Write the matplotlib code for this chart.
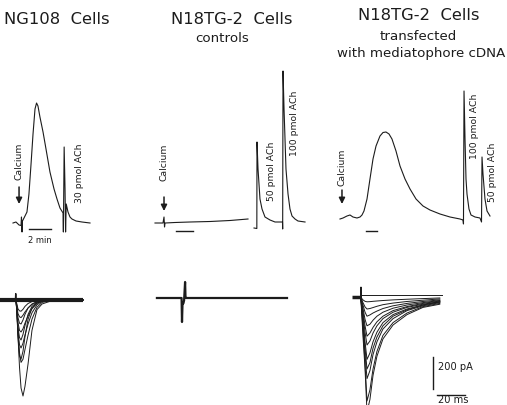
import matplotlib
matplotlib.use("Agg")
import matplotlib.pyplot as plt

# ---------------- data ----------------
# Top row: chemiluminescence traces, time in min, light in a.u.
a_t = [0, 0.27, 0.55, 0.73, 0.77, 0.82, 0.86, 1.0, 1.27, 1.45, 1.64, 1.82, 2.0, 2.14,
       2.27, 2.45, 2.73, 3.0, 3.36, 3.73, 4.0, 4.27, 4.55, 4.58, 4.65, 4.73, 4.78, 4.84,
       5.0, 5.18, 5.36, 5.73, 6.27, 7.0]
a_s = [0, 0.1, -0.2, -0.25, 0.6, -0.9, 0.2, 0.5, 1.1, 2.9, 5.9, 8.9, 11.4, 12.0,
       11.7, 10.6, 9.1, 7.4, 5.1, 3.4, 2.4, 1.5, 1.0, -0.9, 7.6, 3.4, -0.9, 1.9,
       1.1, 0.6, 0.4, 0.2, 0.1, 0]

b1_t = [0, 0.94, 1.06, 1.12, 1.18, 2.35, 4.12, 6.47, 8.82, 10.94]
b1_s = [0, 0, 0.6, -0.4, 0, 0.05, 0.1, 0.15, 0.25, 0.4]
b2_t = [11.65, 11.98, 12.0, 12.12, 12.35, 12.59, 12.94, 13.53, 14.12, 15.0, 15.02, 15.06,
        15.18, 15.41, 15.65, 15.88, 16.12, 16.47, 16.82, 17.65]
b2_s = [-0.5, -0.55, 8.1, 5.4, 2.4, 1.4, 0.6, 0.3, 0.1, 0.1, -0.6, 15.2,
        11.4, 5.4, 2.9, 1.4, 0.7, 0.4, 0.2, 0.1]

c_t = [0, 0.55, 1.27, 1.82, 2.36, 3.09, 3.64, 4.0, 4.36, 4.91, 5.45, 6.0, 6.55, 7.27,
       7.82, 8.36, 8.91, 9.45, 10.18, 10.91, 11.82, 12.73, 13.82, 15.09, 16.36, 18.18,
       20.0, 21.82, 22.36, 22.45, 22.55, 22.73, 22.91, 23.09, 23.45, 23.82, 24.55, 25.45,
       25.73, 25.82, 26.0, 26.36, 26.73, 27.27]
c_s = [0.2, 0.3, 0.5, 0.6, 0.4, 0.3, 0.4, 0.6, 1.0, 2.2, 4.2, 6.2, 7.5, 8.5,
       8.85, 8.9, 8.7, 8.2, 7.0, 5.5, 4.2, 3.2, 2.2, 1.5, 1.1, 0.7,
       0.4, 0.2, 0.1, -0.3, 13.0, 8.2, 4.2, 2.7, 1.2, 0.6, 0.4, 0.3,
       -0.1, 6.4, 4.7, 2.2, 1.0, 0.5]

# Bottom row: currents, time in ms, current in pA
d_t = [0, 0.7, 1.4, 2.5, 3.6, 5.0, 6.4, 8.6, 11.4, 15.0, 18.6, 24.3, 31.4, 47.9]
d_traces = [
    [0, -90, -220, -420, -550, -600, -540, -400, -190, -60, -25, -8, -3, 0],
    [0, -80, -200, -330, -390, -370, -310, -220, -120, -45, -15, -4, 0, 0],
    [0, -90, -230, -350, -370, -320, -230, -120, -50, -20, -8, -3, 0, 0],
    [0, -80, -200, -280, -300, -270, -220, -150, -80, -30, -8, -2, 0, 0],
    [0, -70, -170, -235, -250, -215, -160, -90, -40, -15, -5, 0, 0, 0],
    [0, -60, -140, -190, -200, -180, -145, -100, -55, -20, -6, 0, 0, 0],
    [0, -50, -110, -145, -150, -125, -90, -50, -25, -10, -3, 0, 0, 0],
    [0, -40, -85, -105, -110, -95, -75, -50, -28, -12, -4, 0, 0, 0],
    [0, -30, -55, -68, -70, -58, -40, -22, -10, -5, -2, 0, 0, 0],
]
d_base_t = [-11.4, 47.9]
d_base_i = [0, 0]
d_art_t = [-0.4, -0.2, 0.0]
d_art_i = [0, 40, 0]

e_t = [-17.9, -0.3, 0.0, 0.4, 0.9, 1.5, 2.2, 2.5, 2.9, 75.0]
e_i = [0, 0, -150, -25, -35, -15, 100, 5, 0, 0]

f_t = [0, 0.7, 2.1, 3.6, 5.0, 7.1, 9.3, 12.1, 16.4, 23.6, 33.6, 45.0, 57.0]
f_traces = [
    [0, -20, -240, -450, -720, -640, -490, -370, -262, -175, -110, -65, -45],
    [0, -15, -200, -420, -650, -580, -450, -340, -240, -160, -100, -60, -40],
    [0, -15, -170, -360, -510, -460, -360, -280, -200, -135, -85, -55, -35],
    [0, -12, -150, -320, -450, -410, -320, -250, -180, -120, -80, -50, -30],
    [0, -10, -130, -280, -390, -350, -280, -220, -160, -110, -75, -50, -30],
    [0, -10, -110, -220, -300, -275, -225, -180, -135, -95, -65, -45, -30],
    [0, -8, -90, -180, -245, -225, -190, -155, -120, -85, -60, -40, -25],
    [0, -6, -70, -140, -180, -170, -145, -120, -95, -70, -50, -35, -22],
    [0, -5, -50, -95, -120, -112, -100, -88, -72, -55, -40, -28, -18],
    [0, -4, -35, -62, -75, -72, -66, -58, -48, -38, -28, -20, -12],
    [0, -3, -18, -27, -30, -29, -27, -25, -22, -18, -14, -10, -6],
]
f_pre_t = [-5.7, 0.5]
f_pre_i = [3, 3]
f_art_t = [0.6, 0.7, 0.8, 1.0]
f_art_i = [0, 62, -25, 0]
f_top_t = [0, 58.6]
f_top_i = [12, 12]

titles = ["NG108  Cells", "N18TG-2  Cells", "N18TG-2  Cells"]
subtitles_b = ["controls"]
subtitles_c = ["transfected", "with mediatophore cDNA"]

# ---------------- layout ----------------
W, H = 507, 406
fig = plt.figure(figsize=(W / 100, H / 100), dpi=100)
fig.patch.set_facecolor("white")
INK = "#1c1c1c"
plt.rcParams["font.family"] = ["DejaVu Sans"]


def panel(x0, y0, sx, sy):
    """Axes over whole figure; data origin at pixel (x0, y0), sx/sy px per unit."""
    ax = fig.add_axes([0, 0, 1, 1])
    ax.set_xlim(-x0 / sx, (W - x0) / sx)
    ax.set_ylim(-(H - y0) / sy, y0 / sy)
    ax.axis("off")
    ax.patch.set_alpha(0)
    return ax


def ftext(x, y, s, **kw):
    fig.text(x / W, 1 - y / H, s, color=INK, **kw)


def arrow(ax, x, y_head, y_tail):
    ax.annotate("", xy=(x, y_head), xytext=(x, y_tail),
                arrowprops=dict(arrowstyle="-|>", color=INK, lw=1.1,
                                mutation_scale=9, shrinkA=0, shrinkB=0))


# titles
ftext(57, 20, titles[0], fontsize=11.8, ha="center", va="center")
ftext(232, 20, titles[1], fontsize=11.8, ha="center", va="center")
ftext(222, 38, subtitles_b[0], fontsize=9.6, ha="center", va="center")
ftext(419, 15, titles[2], fontsize=11.8, ha="center", va="center")
ftext(418, 36, subtitles_c[0], fontsize=9.6, ha="center", va="center")
ftext(337, 53, subtitles_c[1], fontsize=9.6, ha="left", va="center")

lw = 0.8
small = 6.7

# ---- Panel A ----
axA = panel(13, 224, 11, 10)
axA.plot(a_t, a_s, color=INK, lw=lw)
arrow(axA, 0.55, 1.9, 3.6)
axA.text(0.55, 6.3, "Calcium", rotation=90, fontsize=small, ha="center", va="center", color=INK)
axA.plot([1.45, 3.45], [-0.6, -0.6], color=INK, lw=1.0)
axA.text(2.45, -1.7, "2 min", fontsize=6, ha="center", va="center", color=INK)
axA.text(6.0, 5.1, "30 pmol ACh", rotation=90, fontsize=small, ha="center", va="center", color=INK)

# ---- Panel B ----
axB = panel(155, 224, 8.5, 10)
axB.plot(b1_t, b1_s, color=INK, lw=lw)
axB.plot(b2_t, b2_s, color=INK, lw=lw)
arrow(axB, 1.06, 1.2, 2.6)
axB.text(1.06, 6.2, "Calcium", rotation=90, fontsize=small, ha="center", va="center", color=INK)
axB.plot([2.47, 4.47], [-0.8, -0.8], color=INK, lw=1.0)
axB.text(13.76, 5.3, "50 pmol ACh", rotation=90, fontsize=small, ha="center", va="center", color=INK)
axB.text(16.47, 10.1, "100 pmol ACh", rotation=90, fontsize=small, ha="center", va="center", color=INK)

# ---- Panel C ----
axC = panel(340, 222, 5.5, 10)
axC.plot(c_t, c_s, color=INK, lw=lw)
arrow(axC, 0.36, 1.7, 3.1)
axC.text(0.36, 5.5, "Calcium", rotation=90, fontsize=small, ha="center", va="center", color=INK)
axC.plot([4.73, 6.73], [-1.0, -1.0], color=INK, lw=1.0)
axC.text(24.5, 9.6, "100 pmol ACh", rotation=90, fontsize=small, ha="center", va="center", color=INK)
axC.text(27.8, 5.0, "50 pmol ACh", rotation=90, fontsize=small, ha="center", va="center", color=INK)

# ---- Panel D (currents) ----
PXMS, PXPA = 1.4, 0.16
axD = panel(16, 301, PXMS, PXPA)
axD.plot(d_base_t, d_base_i, color=INK, lw=3.0, solid_capstyle="butt")
axD.plot(d_art_t, d_art_i, color=INK, lw=1.0)
for tr in d_traces:
    axD.plot(d_t, tr, color=INK, lw=0.7)

# ---- Panel E ----
axE = panel(182, 299, PXMS, PXPA)
axE.plot(e_t, e_i, color=INK, lw=1.6)

# ---- Panel F ----
axF = panel(360, 298, PXMS, PXPA)
axF.plot(f_pre_t, f_pre_i, color=INK, lw=2.5, solid_capstyle="butt")
axF.plot(f_art_t, f_art_i, color=INK, lw=0.8)
axF.plot(f_top_t, f_top_i, color=INK, lw=0.7)
for tr in f_traces:
    axF.plot(f_t, tr, color=INK, lw=0.7)
# scale bars
axF.plot([52.1, 52.1], [-375, -575], color=INK, lw=1.0)
axF.plot([55, 75], [-612.5, -612.5], color=INK, lw=1.0)
axF.text(55.7, -431, "200 pA", fontsize=7.1, ha="left", va="center", color=INK)
axF.text(55.7, -638, "20 ms", fontsize=7.1, ha="left", va="center", color=INK)

fig.savefig("out.png", dpi=100, facecolor="white")
